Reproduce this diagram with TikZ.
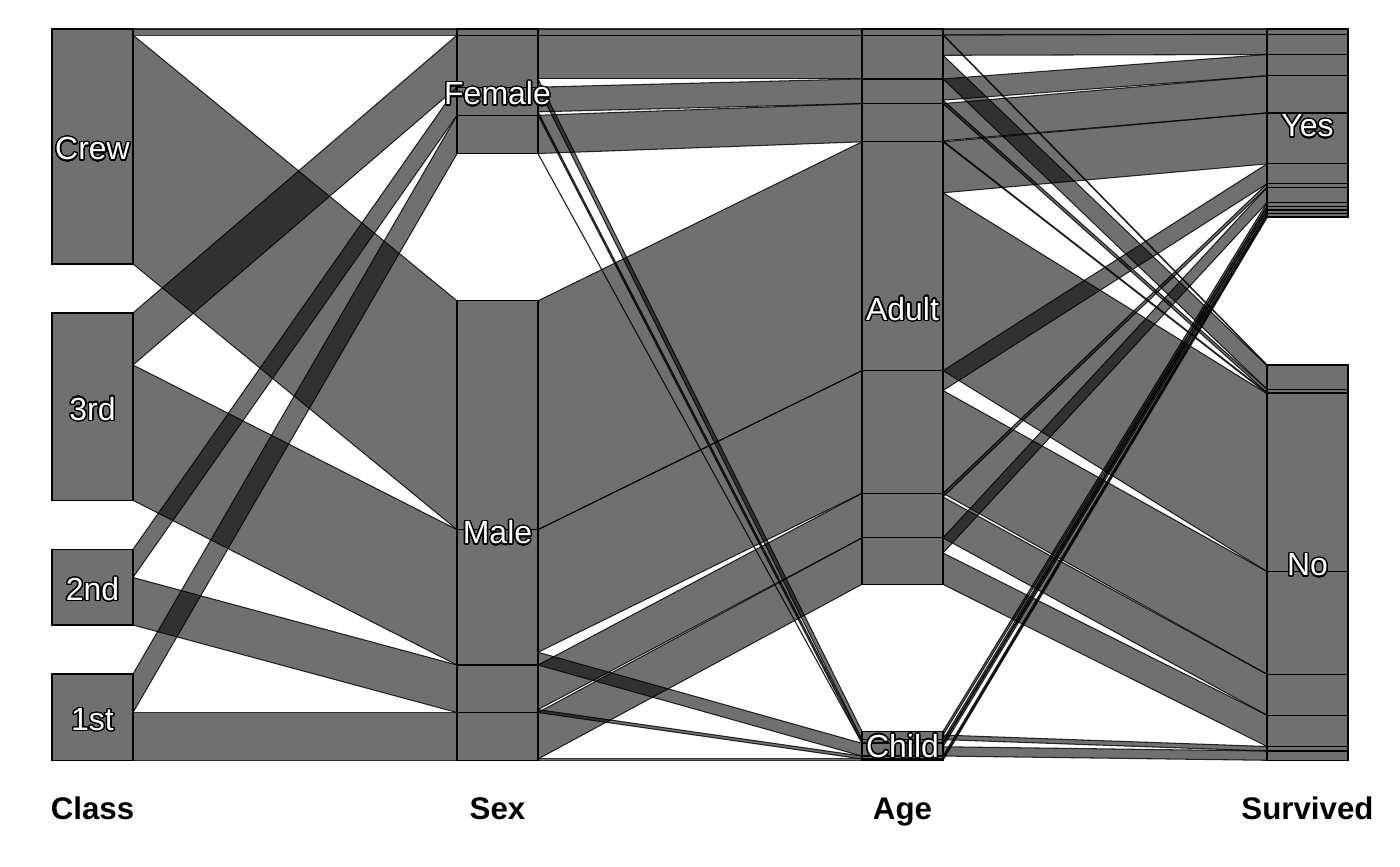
\documentclass[tikz,border=0pt]{standalone}
\usepackage{fontspec}
\setmainfont{Liberation Sans}
\usepackage{contour}
\contourlength{0.8pt}
\contournumber{24}

\begin{document}
\begin{tikzpicture}[x=0.02cm, y=-0.0053068cm,
    ribbon/.style={fill=black, fill opacity=0.56, draw=black, draw opacity=0.8,
      line width=0.6pt, line join=round},
    stratum/.style={fill=black, fill opacity=0.56, draw=black, line width=0.7pt},
    setlabel/.style={text=white, font=\fontsize{18.2}{20}\selectfont,
      inner sep=0pt, text height=13pt, text depth=0pt},
    axistitle/.style={font=\bfseries\fontsize{17.8}{20}\selectfont,
      inner sep=0pt, text height=12.8pt, text depth=0pt}]
  \useasboundingbox (0,-109.29) rectangle (1400,3154.4);

  % ribbons class -> sex
  \foreach \a/\b/\c/\d in {0/23/0/23, 23/885/1024/1886,
      1069.667/1265.667/23/219, 1265.667/1775.667/1886/2396,
      1960.333/2066.333/219/325, 2066.333/2245.333/2396/2575,
      2430/2575/325/470, 2575/2755/2575/2755} {
    \draw[ribbon] (133,\a) -- (457,\c) -- (457,\d) -- (133,\b) -- cycle;
  }

  % ribbons sex -> age
  \foreach \a/\b/\c/\d in {0/23/0/23, 23/188/23/188, 188/219/2646/2677,
      219/312/188/281, 312/325/2677/2690, 325/469/281/425, 469/470/2690/2691,
      1024/1886/425/1287, 1886/2348/1287/1749, 2348/2396/2691/2739,
      2396/2564/1749/1917, 2564/2575/2739/2750, 2575/2750/1917/2092,
      2750/2755/2750/2755} {
    \draw[ribbon] (538,\a) -- (862,\c) -- (862,\d) -- (538,\b) -- cycle;
  }

  % ribbons age -> survived
  \foreach \a/\b/\c/\d in {0/20/0/20, 20/23/1265/1268, 23/99/20/96,
      99/188/1268/1357, 188/268/96/176, 268/281/1357/1370, 281/421/176/316,
      421/425/1370/1374, 425/617/316/508, 617/1287/1374/2044,
      1287/1362/508/583, 1362/1749/2044/2431, 1749/1763/583/597,
      1763/1917/2431/2585, 1917/1974/597/654, 1974/2092/2585/2703,
      2646/2660/654/668, 2660/2677/2703/2720, 2677/2690/668/681,
      2690/2691/681/682, 2691/2704/682/695, 2704/2739/2720/2755,
      2739/2750/695/706, 2750/2755/706/711} {
    \draw[ribbon] (943,\a) -- (1267,\c) -- (1267,\d) -- (943,\b) -- cycle;
  }

  % axes
  \foreach \a/\b in {0/885, 1069.667/1775.667, 1960.333/2245.333, 2430/2755} {
    \draw[stratum] (52,\a) rectangle (133,\b);
  }
  \foreach \a/\b in {0/23, 23/219, 219/325, 325/470,
      1024/1886, 1886/2396, 2396/2575, 2575/2755} {
    \draw[stratum] (457,\a) rectangle (538,\b);
  }
  \foreach \a/\b in {0/23, 23/188, 188/281, 281/425, 425/1287, 1287/1749,
      1749/1917, 1917/2092, 2646/2677, 2677/2690, 2690/2691, 2691/2739,
      2739/2750, 2750/2755} {
    \draw[stratum] (862,\a) rectangle (943,\b);
  }
  \foreach \a/\b in {0/20, 20/96, 96/176, 176/316, 316/508, 508/583,
      583/597, 597/654, 654/668, 668/681, 681/682, 682/695, 695/706, 706/711,
      1265/1268, 1268/1357, 1357/1370, 1370/1374, 1374/2044, 2044/2431,
      2431/2585, 2585/2703, 2703/2720, 2720/2755} {
    \draw[stratum] (1267,\a) rectangle (1348,\b);
  }

  % set labels
  \node[setlabel] (crew)   at (92.5,450)      {\contour{black}{Crew}};
  \node[setlabel] (third)  at (92.5,1430)     {\contour{black}{3rd}};
  \node[setlabel] (second) at (92.5,2110)     {\contour{black}{2nd}};
  \node[setlabel] (first)  at (92.5,2600)     {\contour{black}{1st}};
  \node[setlabel] (female) at (497.5,242.5)   {\contour{black}{Female}};
  \node[setlabel] (male)   at (497.5,1897)    {\contour{black}{Male}};
  \node[setlabel] (adult)  at (902.5,1053.5)  {\contour{black}{Adult}};
  \node[setlabel] (child)  at (902.5,2701)    {\contour{black}{Child}};
  \node[setlabel] (yes)    at (1307.5,363)    {\contour{black}{Yes}};
  \node[setlabel] (no)     at (1307.5,2017.5) {\contour{black}{No}};

  % axis titles
  \node[axistitle] (class)    at (92.5,2935.9)   {Class};
  \node[axistitle] (sex)      at (497.5,2935.9)  {Sex};
  \node[axistitle] (age)      at (902.5,2935.9)  {Age};
  \node[axistitle] (survived) at (1307.5,2935.9) {Survived};
\end{tikzpicture}
\end{document}
